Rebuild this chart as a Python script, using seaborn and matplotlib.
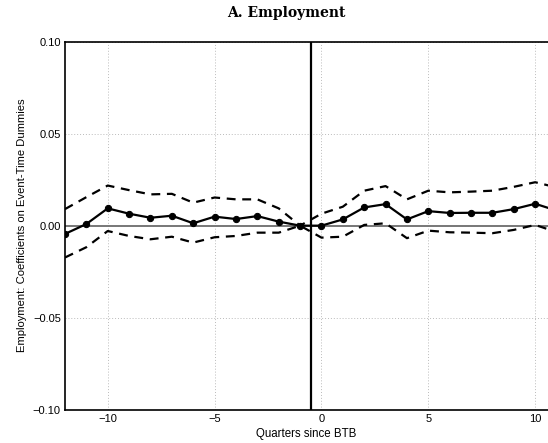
import numpy as np
import pandas as pd
import matplotlib
matplotlib.use("Agg")
import matplotlib.pyplot as plt
import seaborn as sns

# Event-time coefficients (quarters relative to Ban-the-Box adoption)
quarters = list(range(-12, 12))
coef = [-0.0045, 0.0009, 0.0094, 0.0065, 0.0043, 0.0054, 0.0013, 0.0049, 0.0036, 0.0052,
        0.0022, 0.0000, 0.0000, 0.0034, 0.0099, 0.0117, 0.0034, 0.0079, 0.0069, 0.0070,
        0.0070, 0.0090, 0.0119, 0.0082]
upper = [0.0090, 0.0155, 0.0218, 0.0193, 0.0170, 0.0173, 0.0125, 0.0153, 0.0143, 0.0143,
         0.0094, 0.0000, 0.0065, 0.0103, 0.0190, 0.0215, 0.0143, 0.0190, 0.0181, 0.0185,
         0.0190, 0.0211, 0.0236, 0.0208]
lower = [-0.0173, -0.0117, -0.0029, -0.0056, -0.0074, -0.0060, -0.0092, -0.0063, -0.0056, -0.0038,
         -0.0038, 0.0000, -0.0065, -0.0060, 0.0004, 0.0013, -0.0068, -0.0027, -0.0036, -0.0038,
         -0.0041, -0.0023, 0.0004, -0.0035]

xticks = [-10, -5, 0, 5, 10]
yticks = [-0.10, -0.05, 0.00, 0.05, 0.10]

df = pd.DataFrame({"q": quarters, "coef": coef, "upper": upper, "lower": lower})

sns.set_style("white")
plt.rcParams["font.family"] = ["Liberation Sans", "DejaVu Sans"]
plt.rcParams["text.color"] = "black"
plt.rcParams["axes.labelcolor"] = "black"
plt.rcParams["xtick.color"] = "black"
plt.rcParams["ytick.color"] = "black"

fig = plt.figure(figsize=(5.48, 4.43), dpi=100)
ax = fig.add_axes([0.1186, 0.0752, 0.8814, 0.8308])

# reference lines
ax.axhline(0, color="#777777", lw=1.4, zorder=1)
ax.axvline(-0.5, color="black", lw=1.6, zorder=1)

# confidence bands
sns.lineplot(data=df, x="q", y="upper", ax=ax, color="black", lw=1.6,
             linestyle=(0, (4, 3)), zorder=3)
sns.lineplot(data=df, x="q", y="lower", ax=ax, color="black", lw=1.6,
             linestyle=(0, (4, 3)), zorder=3)
# point estimates
sns.lineplot(data=df, x="q", y="coef", ax=ax, color="black", lw=1.6,
             marker="o", markersize=4.5, markeredgecolor="black", zorder=4)

ax.set_xlim(-12, 10.6)
ax.set_ylim(-0.10, 0.10)
ax.set_xticks(xticks)
ax.set_yticks(yticks)
ax.set_xticklabels([f"{t:d}".replace("-", "\u2212") for t in xticks], fontsize=8)
ax.set_yticklabels([f"{t:.2f}".replace("-", "\u2212") for t in yticks], fontsize=8)
ax.tick_params(axis="both", length=0, pad=3)

ax.grid(True, color="#bbbbbb", linestyle=(0, (1, 2)), lw=0.7)
for side in ["left", "top", "bottom"]:
    ax.spines[side].set_color("black")
    ax.spines[side].set_linewidth(1.2)
ax.spines["right"].set_visible(False)

ax.set_xlabel("Quarters since BTB", fontsize=8.3, labelpad=3)
ax.set_ylabel("Employment: Coefficients on Event-Time Dummies", fontsize=8.1, labelpad=4)

fig.text(0.522, 0.970, "A. Employment", ha="center", va="center",
         fontsize=10, fontweight="bold", family=["DejaVu Serif"])

fig.savefig("out.png", dpi=100)
